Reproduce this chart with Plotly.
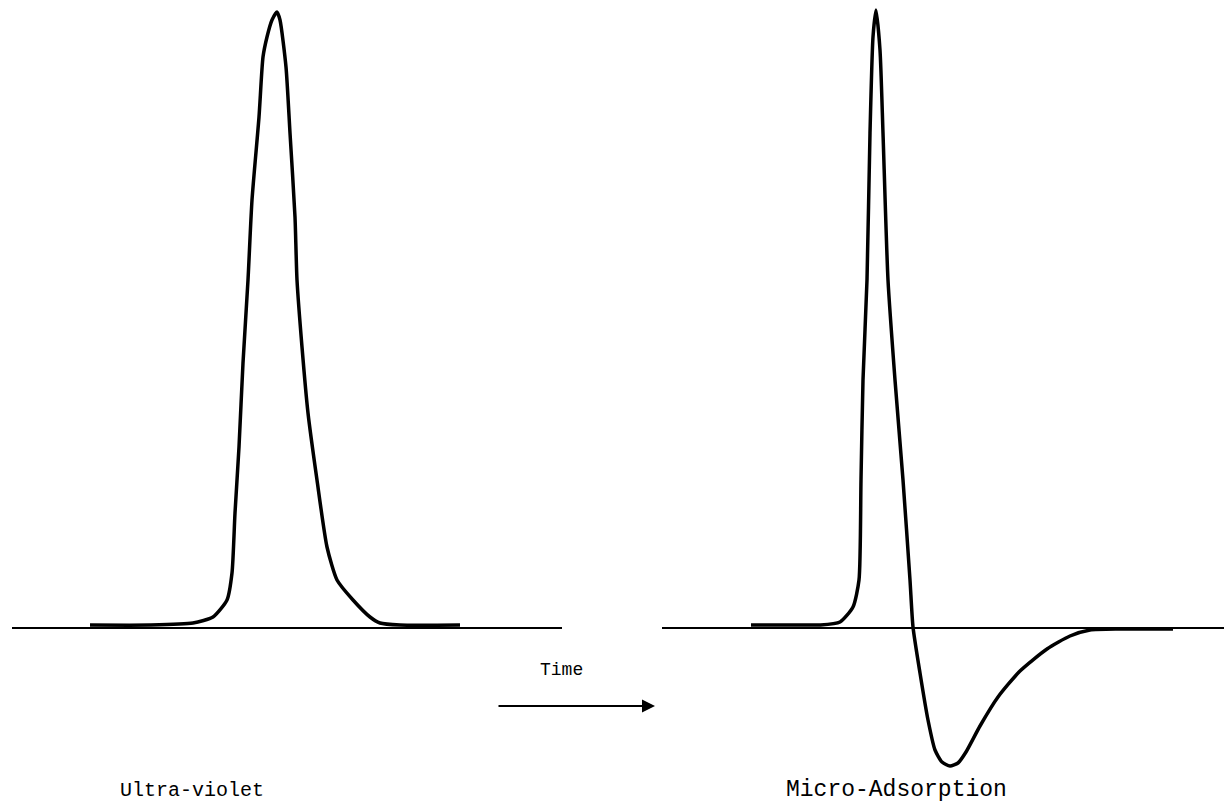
import plotly.graph_objects as go

# Time axis (arbitrary units) and detector signal
uv_time = [90, 150, 193, 213, 227, 232, 235, 239, 243, 248, 252, 259, 263, 267, 272, 277,
           280, 286, 290, 295, 297, 302, 308, 317, 327, 337, 353, 370, 380, 400, 460]
uv_signal = [3, 3, 5, 11, 28, 55, 115, 181, 265, 348, 428, 511, 571, 591, 608, 616,
             608, 561, 495, 411, 348, 281, 215, 148, 81, 48, 28, 11, 5, 3, 3]

ma_time = [751, 800, 820, 840, 853, 859, 861, 863, 867, 870, 873, 876, 880, 883, 888, 895,
           903, 910, 913, 920, 928, 935, 942, 950, 958, 966, 980, 998, 1020, 1047, 1070,
           1090, 1120, 1173]
ma_signal = [3, 3, 3, 6, 21, 48, 148, 248, 348, 495, 591, 618, 578, 495, 348, 248,
             148, 48, 1, -45, -92, -122, -134, -138, -135, -124, -98, -69, -43, -21, -8,
             -2, -1, -1]

uv_base_time = [12, 562]
ma_base_time = [662, 1232]
base_signal = [0, 0]

labels = ["Ultra-violet", "Micro-Adsorption"]
label_time = [192, 896]
label_size = [20, 23]
time_label = "Time"

family = "Courier New, Liberation Mono, DejaVu Sans Mono, monospace"

fig = go.Figure()
fig.add_trace(go.Scatter(x=uv_base_time, y=base_signal, mode="lines",
                         line=dict(color="black", width=2), hoverinfo="skip"))
fig.add_trace(go.Scatter(x=ma_base_time, y=base_signal, mode="lines",
                         line=dict(color="black", width=2), hoverinfo="skip"))
fig.add_trace(go.Scatter(x=uv_time, y=uv_signal, mode="lines",
                         line=dict(color="black", width=3.5, shape="spline", smoothing=0.6)))
fig.add_trace(go.Scatter(x=ma_time, y=ma_signal, mode="lines",
                         line=dict(color="black", width=3.5, shape="spline", smoothing=0.6)))

for lab, t, s in zip(labels, label_time, label_size):
    fig.add_annotation(x=t, y=-162, text=lab, showarrow=False,
                       font=dict(family=family, size=s, color="black"),
                       xanchor="center", yanchor="middle")

fig.add_annotation(x=561, y=-42, text=time_label, showarrow=False,
                   font=dict(family=family, size=18, color="black"),
                   xanchor="center", yanchor="middle")
fig.add_annotation(x=655, y=-78, ax=497, ay=-78, axref="x", ayref="y",
                   text="", showarrow=True, arrowhead=2, arrowsize=1.3,
                   arrowwidth=2, arrowcolor="black")

# page body has an 8px margin: shrink the figure and shift ranges to compensate
fig.update_xaxes(visible=False, range=[8, 1232], fixedrange=True)
fig.update_yaxes(visible=False, range=[-183, 620], fixedrange=True)
fig.update_layout(width=1224, height=803, margin=dict(l=0, r=0, t=0, b=0),
                  plot_bgcolor="white", paper_bgcolor="white", showlegend=False)

fig.write_html("out.html")
